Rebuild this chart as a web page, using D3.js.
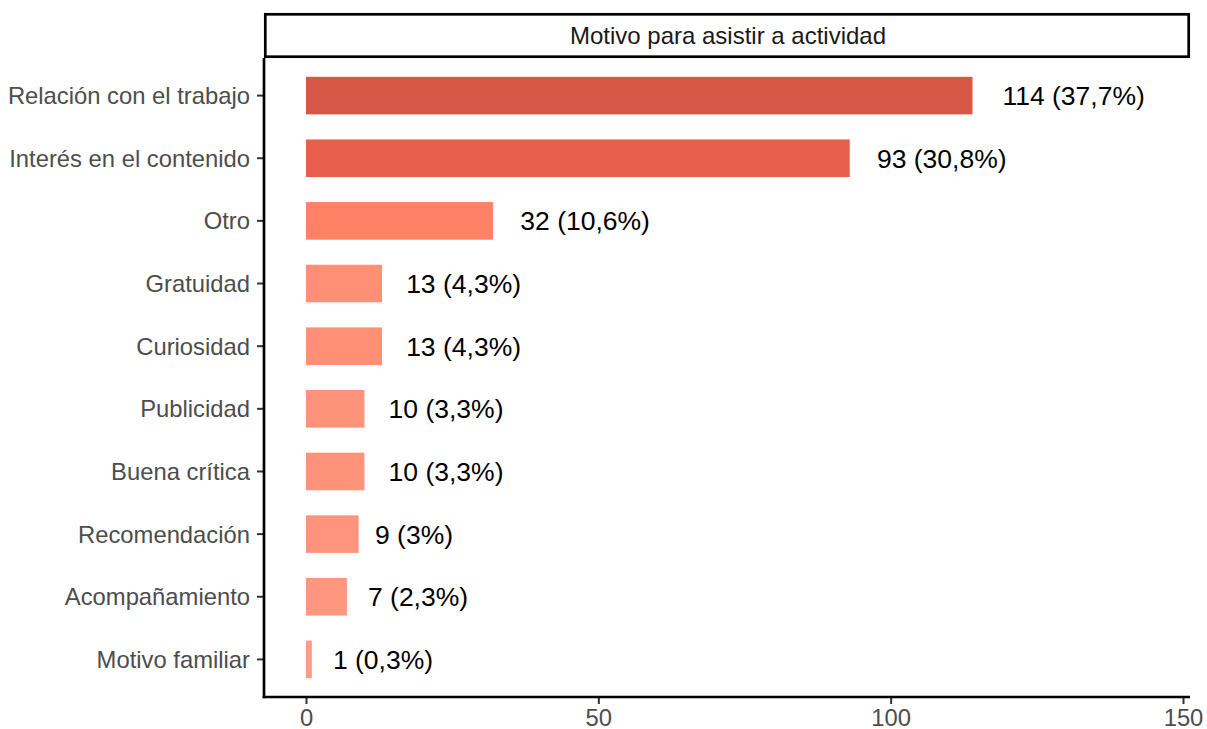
<!DOCTYPE html>
<html>
<head>
<meta charset="utf-8">
<script src="https://cdn.jsdelivr.net/npm/d3@7"></script>
<style>
  html, body { margin: 0; padding: 0; background: #fff; }
  svg { display: block; font-family: "Liberation Sans", Arial, Helvetica, sans-serif; }
</style>
</head>
<body>
<svg id="chart" width="1207" height="729"></svg>
<script>
// ---- data ----
const categories = ["Relación con el trabajo", "Interés en el contenido", "Otro", "Gratuidad",
  "Curiosidad", "Publicidad", "Buena crítica", "Recomendación", "Acompañamiento", "Motivo familiar"];
const counts = [114, 93, 32, 13, 13, 10, 10, 9, 7, 1];
const percentLabels = ["37,7%", "30,8%", "10,6%", "4,3%", "4,3%", "3,3%", "3,3%", "3%", "2,3%", "0,3%"];
const xTicks = [0, 50, 100, 150];
const facetTitle = "Motivo para asistir a actividad";
const colorStops = [1, 7, 10, 13, 32, 93, 114];
const colorRange = ["#FF9C84", "#FF977F", "#FF937A", "#FF9076", "#FF8166", "#E8604C", "#D65745"];

// ---- layout ----
const svg = d3.select("#chart");
const panel = { left: 264, right: 1190, top: 58, bottom: 697 };
const strip = { top: 13, bottom: 58 };

const x = d3.scaleLinear().domain([0, 150]).range([306, 1183]);
// ggplot: band width 0.6 of step, expansion 0.6 step each side
const step = (panel.bottom - panel.top) / (categories.length + 0.2);
const yCenter = (i) => panel.top + step * (0.6 + i);
const barH = step * 0.6;
const color = d3.scaleLinear().domain(colorStops).range(colorRange);

// strip
svg.append("rect")
  .attr("x", panel.left + 1.3).attr("y", strip.top + 1.3)
  .attr("width", panel.right - panel.left - 2.6).attr("height", strip.bottom - strip.top - 2.6)
  .attr("fill", "#fff").attr("stroke", "#000").attr("stroke-width", 2.7);
svg.append("text")
  .attr("x", (panel.left + panel.right) / 2 + 1).attr("y", (strip.top + strip.bottom) / 2)
  .attr("dy", "0.36em").attr("text-anchor", "middle")
  .attr("font-size", 24).attr("fill", "#1A1A1A").text(facetTitle);

// bars
const g = svg.append("g");
g.selectAll("rect.bar").data(counts).join("rect").attr("class", "bar")
  .attr("x", x(0)).attr("y", (d, i) => yCenter(i) - barH / 2)
  .attr("width", d => x(d) - x(0)).attr("height", barH)
  .attr("fill", d => color(d));

// value labels (hjust ~ -0.2)
g.selectAll("text.lab").data(counts).join("text").attr("class", "lab")
  .attr("y", (d, i) => yCenter(i)).attr("dy", "0.36em")
  .attr("font-size", 26.5).attr("fill", "#000")
  .text((d, i) => `${d} (${percentLabels[i]})`)
  .each(function (d) {
    const w = this.getComputedTextLength();
    d3.select(this).attr("x", x(d) + 0.21 * w);
  });

// y axis
const yAxis = svg.append("g");
categories.forEach((c, i) => {
  yAxis.append("line").attr("x1", panel.left - 7).attr("x2", panel.left)
    .attr("y1", yCenter(i)).attr("y2", yCenter(i))
    .attr("stroke", "#333").attr("stroke-width", 2);
  yAxis.append("text").attr("x", panel.left - 14).attr("y", yCenter(i)).attr("dy", "0.36em")
    .attr("text-anchor", "end").attr("font-size", 23.8).attr("fill", "#4D4D4D").text(c);
});
svg.append("line").attr("x1", panel.left).attr("x2", panel.left)
  .attr("y1", panel.top).attr("y2", panel.bottom + 1.3)
  .attr("stroke", "#000").attr("stroke-width", 2.7);

// x axis
const xAxis = svg.append("g").attr("transform", `translate(0,${panel.bottom})`)
  .call(d3.axisBottom(x).tickValues(xTicks).tickSize(7).tickPadding(5).tickFormat(d3.format("d")));
xAxis.select(".domain").remove();
xAxis.selectAll(".tick line").attr("stroke", "#333").attr("stroke-width", 2);
xAxis.selectAll(".tick text").attr("font-size", 23.8).attr("fill", "#4D4D4D")
  .attr("font-family", "Liberation Sans, Arial, sans-serif");
svg.append("line").attr("x1", panel.left - 1.3).attr("x2", panel.right)
  .attr("y1", panel.bottom).attr("y2", panel.bottom)
  .attr("stroke", "#000").attr("stroke-width", 2.7);
</script>
</body>
</html>
